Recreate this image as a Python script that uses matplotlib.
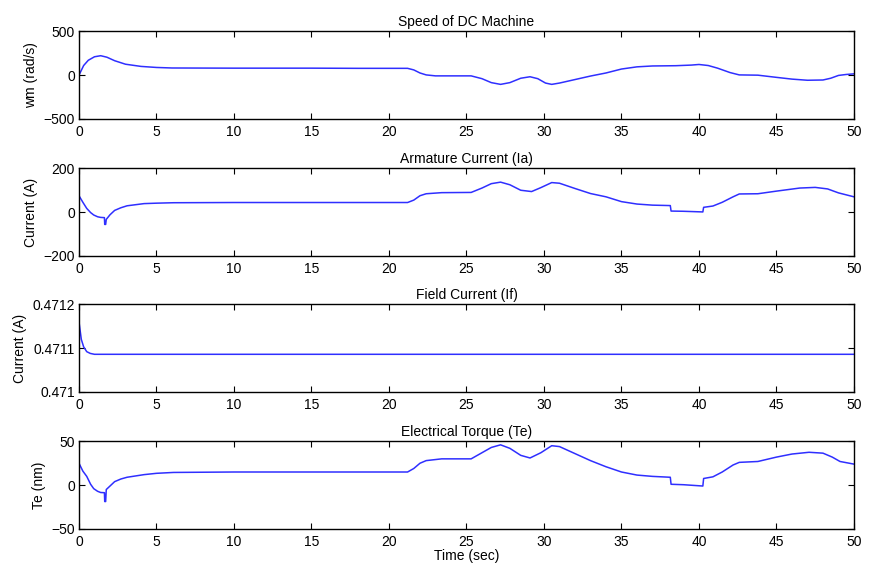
"""
DC machine simulation results: speed, armature current, field current, torque.
"""

import matplotlib
matplotlib.use("Agg")
import matplotlib.pyplot as plt

# --- data ------------------------------------------------------------------
speed_t = [0, 0.3, 0.6, 1.0, 1.4, 1.8, 2.3, 3.0, 4.0, 5.0, 6.0, 10, 15, 18,
           21.2, 21.6, 22.0, 22.4, 23, 25.3, 26, 26.6, 27.2, 27.8, 28.5, 29.1,
           29.6, 30.1, 30.5, 31, 32, 33, 34, 35, 36, 37, 38.5, 39.5, 40, 40.6,
           41.2, 42, 42.6, 43.8, 45, 46, 47, 48, 48.5, 49.0, 49.5, 50]
speed_w = [0, 110, 170, 210, 222, 205, 165, 125, 100, 88, 82, 80, 80, 78,
           78, 60, 25, 3, -8, -8, -40, -85, -105, -85, -35, -18,
           -40, -90, -105, -90, -50, -10, 25, 70, 95, 105, 108, 115, 122, 110,
           80, 30, 3, 0, -25, -45, -58, -55, -35, -3, 8, 15]

ia_t = [0, 0, 0.25, 0.5, 0.75, 0.95, 1.2, 1.4, 1.64, 1.66, 1.72, 1.76, 2.0,
        2.3, 2.7, 3.1, 4.2, 5.0, 6.1, 10, 21.2, 21.6, 22, 22.4, 23.4, 25.3,
        26, 26.6, 27.2, 27.8, 28.5, 29.2, 29.8, 30.5, 31, 32, 33, 34, 35, 36,
        37, 38.15, 38.2, 39, 40.25, 40.3, 40.9, 41.5, 42.2, 42.6, 43.8, 45,
        46.5, 47.5, 48.3, 49, 50]
ia_val = [0, 75, 45, 17, -2, -13, -21, -24, -25, -56, -56, -33, -12,
          8, 20, 29, 39, 41, 43, 44, 44, 55, 75, 84, 89, 90,
          110, 130, 137, 125, 100, 94, 112, 135, 132, 108, 85, 70, 48, 37,
          32, 30, 5, 4, 1, 22, 28, 45, 70, 83, 84, 96,
          110, 113, 106, 88, 70]

if_t = [0, 0.15, 0.3, 0.5, 0.73, 1.0, 50]
if_val = [0.47116, 0.47112, 0.471103, 0.471092, 0.471088, 0.471086, 0.471086]

te_t = [0, 0, 0.25, 0.5, 0.75, 0.95, 1.2, 1.4, 1.64, 1.66, 1.72, 1.76, 2.0,
        2.3, 2.7, 3.1, 4.2, 5, 6.1, 10, 21.2, 21.6, 22, 22.4, 23.4, 25.3,
        26, 26.6, 27.2, 27.8, 28.5, 29.1, 29.8, 30.5, 31, 32, 33, 34, 35, 36,
        37, 38.15, 38.2, 39, 40.25, 40.3, 40.9, 41.5, 42.2, 42.6, 43.8, 45,
        46, 47.1, 48, 48.6, 49.1, 50]
te_val = [0, 25, 16, 10, 1, -4, -7, -8.4, -8.6, -18.7, -18.7, -5, -1,
          4, 7, 9, 12, 13.5, 14.5, 15, 15, 19, 25, 28, 30, 30,
          37, 43, 46, 42, 34, 31, 37, 45, 44, 36, 28, 21, 15, 11.5,
          10, 9, 1, 0.5, -1, 7.6, 9.5, 15, 23, 26, 27, 32,
          35.5, 37.5, 36.5, 32, 27, 24]

x_ticks = [0, 5, 10, 15, 20, 25, 30, 35, 40, 45, 50]
speed_yticks = [-500, 0, 500]
ia_yticks = [-200, 0, 200]
if_yticks = [0.471, 0.4711, 0.4712]
if_yticklabels = ["0.471", "0.4711", "0.4712"]
te_yticks = [-50, 0, 50]

plt.rcParams["font.family"] = ["Liberation Sans", "DejaVu Sans"]
plt.rcParams["font.size"] = 10

fig = plt.figure(figsize=(8.69, 5.71), dpi=100)

left, width, height = 0.0909, 0.8918, 0.1535
bottoms = [0.7916, 0.5517, 0.3135, 0.0736]

panels = [
    (speed_t, speed_w, "Speed of DC Machine", "wm (rad/s)", speed_yticks, None),
    (ia_t, ia_val, "Armature Current (Ia)", "Current (A)", ia_yticks, None),
    (if_t, if_val, "Field Current (If)", "Current (A)", if_yticks, if_yticklabels),
    (te_t, te_val, "Electrical Torque (Te)", "Te (nm)", te_yticks, None),
]

line_color = "#2f2fff"

for bottom, (t, y, title, ylabel, yticks, ylabels) in zip(bottoms, panels):
    ax = fig.add_axes([left, bottom, width, height])
    ax.plot(t, y, color=line_color, linewidth=1.1)
    ax.set_xlim(0, 50)
    ax.set_ylim(yticks[0], yticks[-1])
    ax.set_xticks(x_ticks)
    ax.set_yticks(yticks)
    if ylabels is not None:
        ax.set_yticklabels(ylabels)
    ax.tick_params(direction="in", top=True, right=True, length=4,
                   width=0.8, labelsize=10)
    ax.tick_params(axis="x", pad=4)
    ax.tick_params(axis="y", pad=3)
    for spine in ax.spines.values():
        spine.set_linewidth(1.0)
    ax.set_title(title, fontsize=10, pad=4)
    ax.set_ylabel(ylabel, fontsize=10, labelpad=4)

ax.set_xlabel("Time (sec)", fontsize=10, labelpad=0)

fig.savefig("out.png", dpi=100)
